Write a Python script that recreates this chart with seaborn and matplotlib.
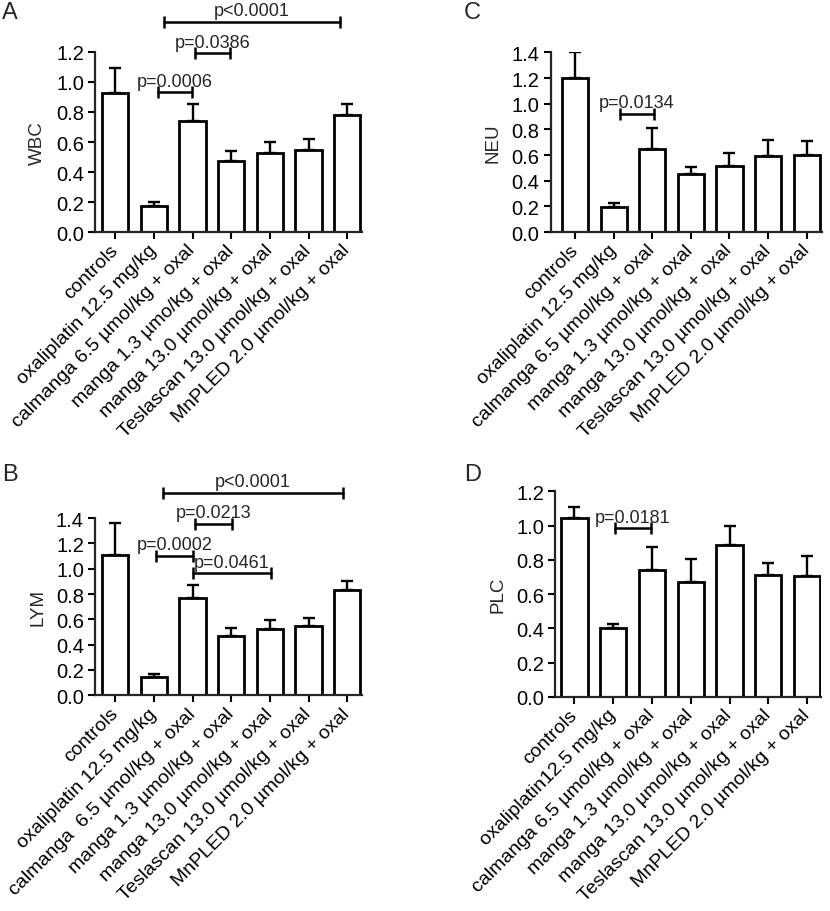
import numpy as np
import pandas as pd
import matplotlib
matplotlib.use('Agg')
import matplotlib.pyplot as plt
import seaborn as sns

sns.set_style('ticks')
plt.rcParams['font.family'] = ['Liberation Sans', 'DejaVu Sans']

# group labels (as printed under each panel, typos kept)
labels_A = ['controls', 'oxaliplatin 12.5 mg/kg', 'calmanga 6.5 µmol/kg + oxal',
            'manga 1.3 µmo/kg + oxal', 'manga 13.0 µmol/kg + oxal',
            'Teslascan 13.0 µmol/kg + oxal', 'MnPLED 2.0 µmol/kg + oxal']
labels_B = ['controls', 'oxaliplatin 12.5 mg/kg', 'calmanga  6.5 µmol/kg + oxal',
            'manga 1.3 µmol/kg + oxal', 'manga 13.0 µmol/kg + oxal',
            'Teslascan 13.0 µmol/kg + oxal', 'MnPLED 2.0 µmol/kg + oxal']
labels_C = ['controls', 'oxaliplatin 12.5 mg/kg', 'calmanga 6.5 µmol/kg + oxal',
            'manga 1.3 µmol/kg + oxal', 'manga 13.0 µmol/kg + oxal',
            'Teslascan 13.0 µmol/kg + oxal', 'MnPLED 2.0 µmol/kg + oxal']
labels_D = ['controls', 'oxaliplatin12.5 mg/kg', 'calmanga 6.5 µmol/kg + oxal',
            'manga 1.3 µmol/kg + oxal', 'manga 13.0 µmol/kg + oxal',
            'Teslascan 13.0 µmol/kg + oxal', 'MnPLED 2.0 µmol/kg + oxal']

# means and upper SEM
wbc_mean = [0.925, 0.176, 0.742, 0.475, 0.527, 0.549, 0.782]
wbc_err = [0.168, 0.022, 0.111, 0.067, 0.071, 0.071, 0.071]
lym_mean = [1.11, 0.145, 0.768, 0.466, 0.523, 0.547, 0.831]
lym_err = [0.247, 0.021, 0.105, 0.065, 0.071, 0.066, 0.071]
neu_mean = [1.20, 0.197, 0.647, 0.452, 0.512, 0.590, 0.600]
neu_err = [0.20, 0.027, 0.163, 0.052, 0.101, 0.129, 0.107]
plc_mean = [1.046, 0.400, 0.740, 0.672, 0.886, 0.713, 0.703]
plc_err = [0.061, 0.025, 0.137, 0.133, 0.113, 0.067, 0.121]

# significance brackets: (from, to, height, text)
sig_A = [(1.12, 1.98, 0.931, 'p=0.0006'), (2.07, 2.97, 1.19, 'p=0.0386'),
         (1.27, 5.81, 1.402, 'p<0.0001')]
sig_B = [(1.06, 2.0, 1.102, 'p=0.0002'), (2.07, 3.03, 1.352, 'p=0.0213'),
         (2.0, 4.02, 0.963, 'p=0.0461'), (1.23, 5.9, 1.596, 'p<0.0001')]
sig_C = [(1.17, 2.04, 0.92, 'p=0.0134')]
sig_D = [(1.05, 1.97, 0.984, 'p=0.0181')]

fig = plt.figure(figsize=(8.3, 9.12), dpi=100)


def panel(rect, labels, mean, err, ylabel, ymax, xlim, sigs, letter, letter_xy):
    ax = fig.add_axes(rect)
    df = pd.DataFrame({'group': labels, 'value': mean})
    sns.barplot(data=df, x='group', y='value', ax=ax, color='white',
                edgecolor='black', linewidth=2, width=0.68, saturation=1)
    pos = np.arange(len(mean))
    ax.errorbar(pos, mean, yerr=[np.zeros(len(err)), err], fmt='none',
                ecolor='black', elinewidth=1.7, capsize=4.5, capthick=1.7, zorder=1)
    ax.set_xlim(*xlim)
    ax.set_ylim(0, ymax)
    ticks = np.arange(0, ymax + 0.01, 0.2)
    ax.set_yticks(ticks)
    ax.set_yticklabels([f'{t:.1f}' for t in ticks], fontsize=14.5)
    ax.set_xticks(pos)
    ax.set_xticklabels(labels, rotation=45, ha='right', va='center',
                       rotation_mode='anchor', fontsize=14)
    ax.set_xlabel('')
    ax.set_ylabel(ylabel, fontsize=13.5, labelpad=7)
    sns.despine(ax=ax)
    for s in ['left', 'bottom']:
        ax.spines[s].set_linewidth(1.6)
    ax.tick_params(width=1.5, length=5, pad=3, colors='black')
    ax.tick_params(axis='x', pad=6)
    for x1, x2, y, txt in sigs:
        ax.plot([x1, x2], [y, y], color='black', lw=1.8, marker='|',
                markersize=8, mew=1.8, clip_on=False)
        ax.annotate(txt, ((x1 + x2) / 2, y), xytext=(0, 2), textcoords='offset points',
                    ha='center', va='bottom', fontsize=13, annotation_clip=False)
    fig.text(letter_xy[0] / 830, 1 - letter_xy[1] / 912, letter, fontsize=17,
             ha='left', va='top')
    return ax


panel([0.1145, 0.7445, 0.3217, 0.1974], labels_A, wbc_mean, wbc_err, 'WBC', 1.2,
      (-0.52, 6.38), sig_A, 'A', (2, 2))
panel([0.1145, 0.2365, 0.3217, 0.1944], labels_B, lym_mean, lym_err, 'LYM', 1.4,
      (-0.52, 6.38), sig_B, 'B', (2, 464))
panel([0.6635, 0.7445, 0.3265, 0.1970], labels_C, neu_mean, neu_err, 'NEU', 1.4,
      (-0.63, 6.39), sig_C, 'C', (464, 2))
panel([0.6687, 0.2349, 0.3205, 0.2253], labels_D, plc_mean, plc_err, 'PLC', 1.2,
      (-0.5, 6.36), sig_D, 'D', (464, 464))

fig.savefig('out.png', dpi=100)
